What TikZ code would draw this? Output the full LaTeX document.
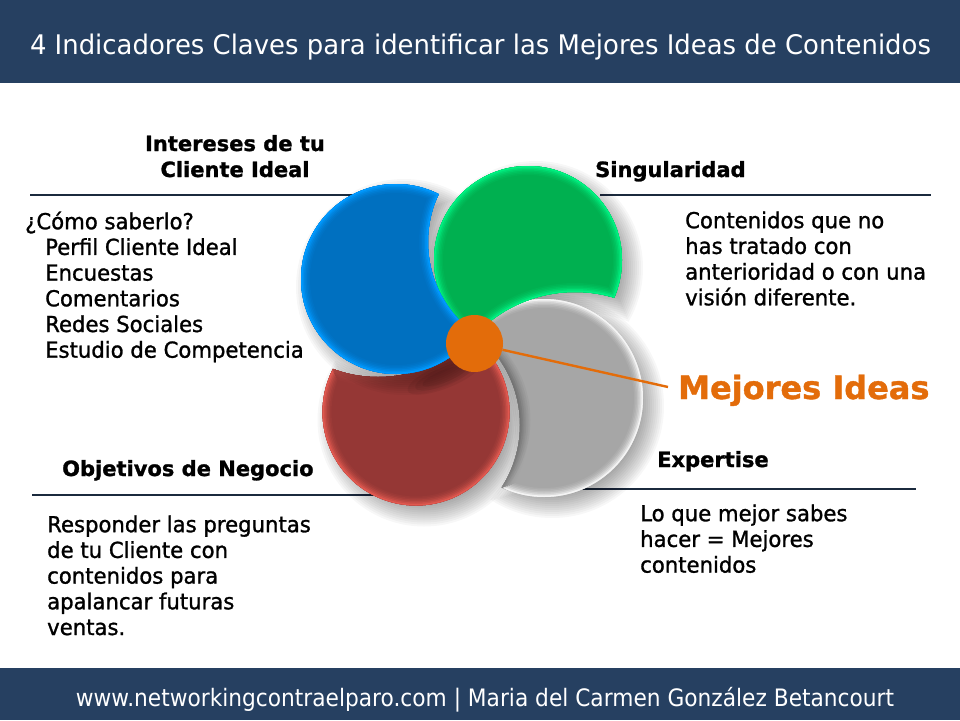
\documentclass[tikz,border=0pt]{standalone}
\usepackage{fontspec}
\setmainfont{DejaVu Sans}
\newfontfamily\titlef[FakeStretch=0.96]{DejaVu Sans}
\newfontfamily\footf[FakeStretch=0.905]{DejaVu Sans}
\newfontfamily\bodyf[FakeStretch=0.963,FakeBold=1.2]{DejaVu Sans}
\newfontfamily\headf[FakeBold=1.2]{DejaVu Sans Bold}
\definecolor{band}{HTML}{264061}
\definecolor{rulec}{HTML}{1B2A3D}
\definecolor{hubc}{HTML}{E36C0A}
\definecolor{blueB}{HTML}{0070C0}\definecolor{blueR}{HTML}{0099FF}
\definecolor{greenB}{HTML}{00B050}\definecolor{greenR}{HTML}{00F080}
\definecolor{grayB}{HTML}{A6A6A6}\definecolor{grayR}{HTML}{F4F4F4}\definecolor{grayH}{HTML}{8E8E8E}
\definecolor{redB}{HTML}{953735}\definecolor{redR}{HTML}{E0584F}\definecolor{redH}{HTML}{A8443F}
\tikzset{
  bandbox/.style={fill=band,draw=none},
  rulel/.style={draw=rulec,line width=2.8pt},
  bodytxt/.style={anchor=north west,inner sep=0pt,align=left,black,font=\bodyf\fontsize{22pt}{25.7pt}\selectfont},
  headtxt/.style={anchor=base west,inner sep=0pt,black,font=\headf\fontsize{21pt}{25.7pt}\selectfont},
  bandtxt/.style={anchor=base,inner sep=0pt,white},
}
% shadow: cx cy r holex holey holer
\newcommand\petalshadow[6]{%
  \foreach \k in {-9,-7,...,13}{%
    \begin{scope}[shift={(8,8)}]
      \clip (-200,-200) -- (1200,-200) -- (1200,1000) -- (-200,1000) -- cycle
            (#4,#5) circle[radius={#6pt-\k pt}];
      \fill[black,opacity=.032] (#1,#2) circle[radius={#3pt+\k pt}];
    \end{scope}}}
% body: cx cy r holex holey holer base rim holerim
\newcommand\petalbody[9]{%
  \begin{scope}
    \clip (-200,-200) -- (1200,-200) -- (1200,1000) -- (-200,1000) -- cycle
          (#4,#5) circle[radius=#6pt];
    \clip (#1,#2) circle[radius=#3pt];
    \fill[#7] (#1,#2) circle[radius=#3pt];
    \foreach \w/\m in {18/8,15/18,12/32,9/50,6/72,3/100}{%
      \draw[line width=\w pt,color=#8!\m!#7] (#1,#2) circle[radius=#3pt];
      \draw[line width=\w pt,color=#9!\m!#7] (#4,#5) circle[radius=#6pt];}
  \end{scope}}
\newcommand\firststrut{\rule{0pt}{20pt}}
\begin{document}
\begin{tikzpicture}[x=1pt,y=-1pt]
\useasboundingbox (0,0) rectangle (960,720);
\fill[white] (0,0) rectangle (960,720);
\fill[bandbox] (0,0) rectangle (960,83);
\fill[bandbox] (0,668) rectangle (960,720);
\node[bandtxt,font=\titlef\fontsize{27pt}{30pt}\selectfont] (title) at (480.5,54) {4 Indicadores Claves para identificar las Mejores Ideas de Contenidos};
\node[bandtxt,font=\footf\fontsize{24pt}{28pt}\selectfont] (foot) at (485,706) {www.networkingcontraelparo.com | Maria del Carmen González Betancourt};
% rules
\coordinate (r1a) at (30,195); \coordinate (r1b) at (360,195);
\coordinate (r2a) at (600,195); \coordinate (r2b) at (931,195);
\coordinate (r3a) at (32,495); \coordinate (r3b) at (380,495);
\coordinate (r4a) at (570,489); \coordinate (r4b) at (916,489);
\draw[rulel] (r1a) -- (r1b);
\draw[rulel] (r2a) -- (r2b);
\draw[rulel] (r3a) -- (r3b);
\draw[rulel] (r4a) -- (r4b);
% petals
\petalshadow{528}{260}{94}{575}{429}{137}
\petalshadow{544}{398}{99}{405}{425}{115}
\petalbody{544}{398}{99}{405}{425}{115}{grayB}{grayR}{grayH}
\petalshadow{416}{412}{93.5}{378}{248}{129}
\petalbody{416}{412}{93.5}{378}{248}{129}{redB}{redR}{redH}
\petalshadow{396}{279}{95}{541}{242}{113}
\petalbody{528}{260}{94}{575}{429}{137}{greenB}{greenR}{greenR}
\petalbody{396}{279}{95}{541}{242}{113}{blueB}{blueR}{blueR}
\foreach \a/\b in {40/12,32/9,24/6}{%
  \fill[black,opacity=.06,rotate around={22:(445,376)}] (445,376) ellipse[x radius=\a pt,y radius=\b pt];}
% hub and label
\node[circle,fill=hubc,minimum size=57pt,inner sep=0pt] (hub) at (474.5,343.5) {};
\node[anchor=base west,inner sep=0pt,text=hubc,font=\headf\fontsize{32pt}{34pt}\selectfont] (ideas) at (678,399) {Mejores Ideas};
\coordinate (lineend) at (668,387);
\draw[hubc,line width=2.4pt] (hub) -- (lineend);
% headings
\node[headtxt,anchor=base] (h1) at (235,151) {Intereses de tu};
\node[headtxt,anchor=base] (h1b) at (235,177) {Cliente Ideal};
\node[headtxt] (h2) at (595,177) {Singularidad};
\node[headtxt] (h3) at (62,476) {Objetivos de Negocio};
\node[headtxt] (h4) at (657,467) {Expertise};
% bodies
\node[bodytxt] (b1) at (25,209) {\firststrut ¿Cómo saberlo?\\\hspace*{20pt}Perfil Cliente Ideal\\\hspace*{20pt}Encuestas\\\hspace*{20pt}Comentarios\\\hspace*{20pt}Redes Sociales\\\hspace*{20pt}Estudio de Competencia};
\node[bodytxt] (b2) at (685,208) {\firststrut Contenidos que no\\has tratado con\\anterioridad o con una\\visión diferente.};
\node[bodytxt] (b3) at (47,512) {\firststrut Responder las preguntas\\de tu Cliente con\\contenidos para\\apalancar futuras\\ventas.};
\node[bodytxt] (b4) at (640,501) {\firststrut Lo que mejor sabes\\hacer = Mejores\\contenidos};
\end{tikzpicture}
\end{document}
